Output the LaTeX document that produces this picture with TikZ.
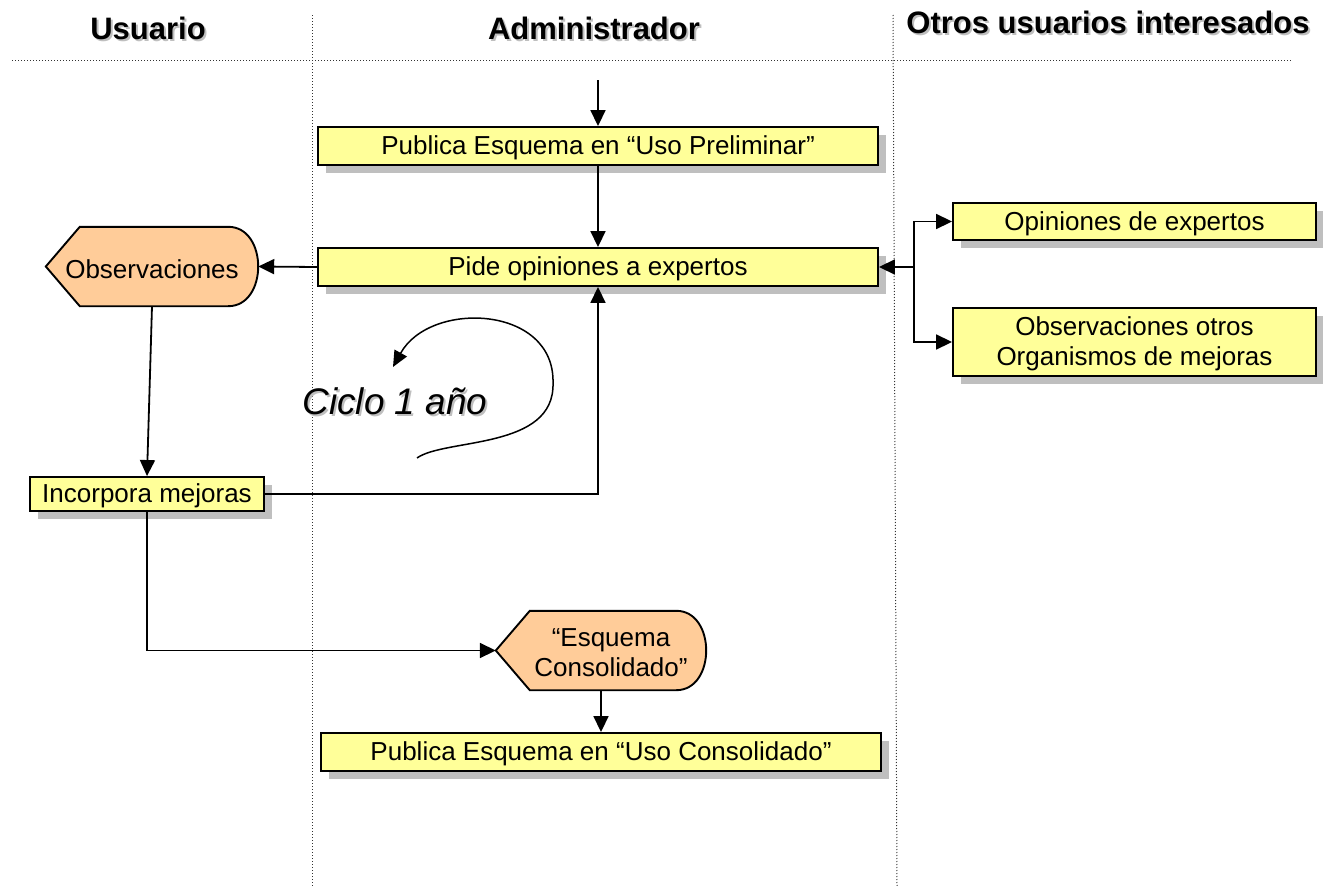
\documentclass[tikz,border=0pt]{standalone}
\usepackage{fontspec}
\setmainfont{Liberation Sans}
\usetikzlibrary{arrows.meta,shadows,calc}
\definecolor{boxyellow}{HTML}{FFFF99}
\definecolor{hexorange}{HTML}{FFCC99}
\definecolor{shadowgray}{HTML}{BFBFBF}
\tikzset{
  box/.style={draw=black, line width=1.9pt, fill=boxyellow, minimum height=38pt, inner sep=0pt,
    font=\fontsize{26}{30}\selectfont, align=center,
    drop shadow={shadow xshift=8pt, shadow yshift=-8pt, fill=shadowgray, opacity=1}},
  hexlabel/.style={inner sep=0pt, minimum height=79pt, font=\fontsize{26}{30}\selectfont, align=center},
  hexshape/.style={draw=black, line width=1.9pt, fill=hexorange},
  hexshadow/.style={fill=shadowgray, draw=none},
  arr/.style={draw=black, line width=1.8pt, -{Triangle[length=16pt,width=15pt]}},
  thinarr/.style={draw=black, line width=1.5pt, -{Triangle[length=16pt,width=14pt]}},
  lane/.style={draw=black!80, line width=1pt, dash pattern=on 1pt off 2pt},
  header/.style={font=\fontsize{31}{36}\selectfont\bfseries, inner sep=0pt},
  ciclo/.style={font=\fontsize{37}{42}\selectfont\itshape, inner sep=0pt},
  lbl/.style={font=\fontsize{26}{30}\selectfont, align=center, inner sep=0pt}
}
\newcommand{\hexpath}[1]{($(#1.north west)+(34,0)$) -- ($(#1.north east)+(-30,0)$)
  .. controls ($(#1.north east)+(10,0)$) and ($(#1.south east)+(10,0)$) .. ($(#1.south east)+(-30,0)$)
  -- ($(#1.south west)+(34,0)$) -- (#1.west) -- cycle}
\begin{document}
\begin{tikzpicture}[x=1pt,y=-1pt]
\useasboundingbox[fill=white] (0,0) rectangle (1323,886);
% lanes
\draw[lane] (12,60) -- (1292,60);
\draw[lane] (312,15) -- (312,886);
\draw[lane] (893,15) -- (897,886);
% headers with shadow
\node[header, text=shadowgray] at (150,30) {Usuario};
\node[header] (hu) at (148,28) {Usuario};
\node[header, text=shadowgray] at (596,30) {Administrador};
\node[header] (ha) at (594,28) {Administrador};
\node[header, text=shadowgray] at (1110,24) {Otros usuarios interesados};
\node[header] (ho) at (1108,22) {Otros usuarios interesados};
% boxes
\node[box, minimum width=560pt] (pre) at (598,146) {};
\node[lbl] at (598,148) {Publica Esquema en “Uso Preliminar”};
\node[box, minimum width=560pt] (pide) at (598,267) {};
\node[lbl] at (598,269) {Pide opiniones a expertos};
\node[box, minimum width=234pt, minimum height=34pt] (inc) at (147,494) {};
\node[lbl] at (147,496) {Incorpora mejoras};
\node[box, minimum width=560pt] (con) at (601,752) {};
\node[lbl] at (601,754) {Publica Esquema en “Uso Consolidado”};
\node[box, minimum width=363pt, minimum height=37pt] (opi) at (1134.5,221.5) {};
\node[lbl] at (1134.5,223.5) {Opiniones de expertos};
\node[box, minimum width=363pt, minimum height=68pt] (oto) at (1134.5,342) {};
\node[lbl] at (1134.5,344) {Observaciones otros\\Organismos de mejoras};
% orange shapes
\node[hexlabel, minimum width=212pt] (obs) at (152,266.5) {};
\node[hexlabel, minimum width=210pt] (esq) at (601,650.5) {};
\begin{scope}[shift={(8,8)}]
  \fill[hexshadow] \hexpath{obs};
  \fill[hexshadow] \hexpath{esq};
\end{scope}
\draw[hexshape] \hexpath{obs};
\draw[hexshape] \hexpath{esq};
\node[lbl] (obst) at (152,269) {Observaciones};
\node[lbl] (esqt) at (611,653) {“Esquema\\Consolidado”};
% connectors
\coordinate (top) at (598,80);
\draw[arr] (top) -- (pre.north);
\draw[arr] (pre.south) -- (pide.north);
\draw[arr] (pide.west) -- (obs.east);
\draw[arr] (obs.south) -- (inc.north);
\draw[arr] (inc.east) -| (pide.south);
\draw[arr] (inc.south) |- (esq.west);
\draw[arr] (esq.south) -- (con.north);
\coordinate (j) at (914,267);
\draw[arr] (j) -- (pide.east);
\draw[arr] (j) |- (opi.west);
\draw[arr] (j) |- (oto.west);
% cycle
\coordinate (c0) at (417,458);
\coordinate (c1) at (553,383);
\coordinate (c2) at (393,367);
\draw[thinarr] (c0) .. controls (445,438) and (555,450) .. (c1) .. controls (555,305) and (430,300) .. (c2);
\node[ciclo, text=shadowgray] at (397,403) {Ciclo 1 año};
\node[ciclo] (cl) at (395,401) {Ciclo 1 año};
\end{tikzpicture}
\end{document}
